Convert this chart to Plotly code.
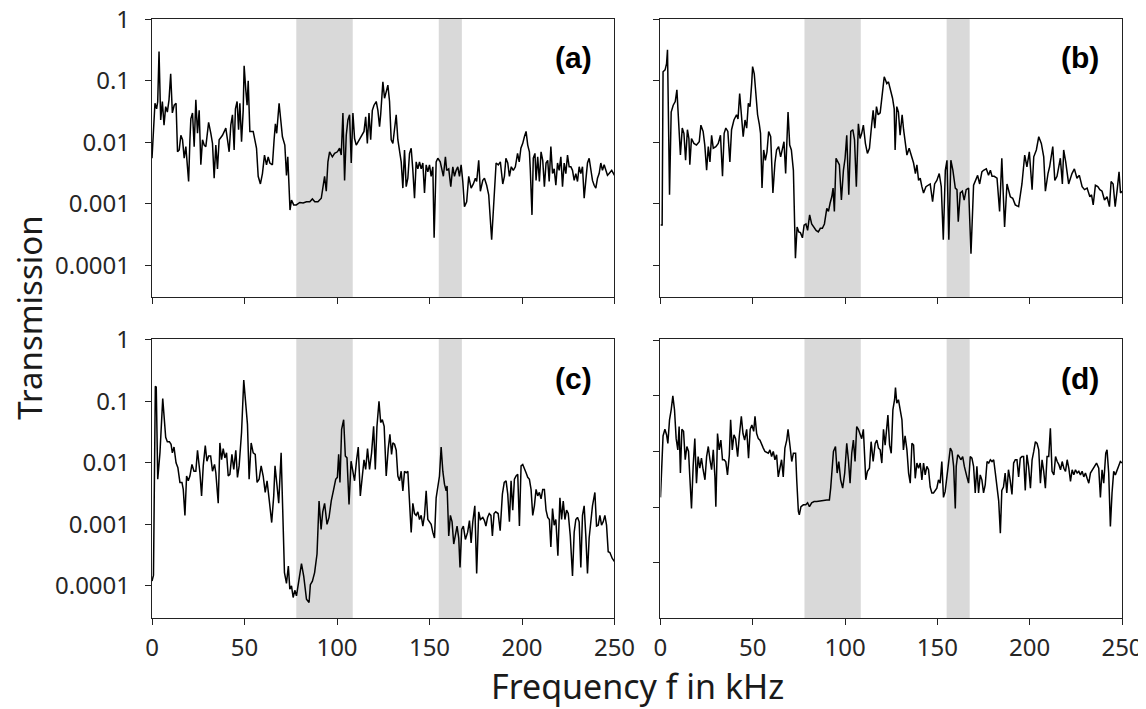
import plotly.graph_objects as go

# ---------------- data ----------------
freq_a = [0, 1.0, 1.6, 2.5, 3.1, 3.8, 4.7, 5.6, 6.5, 7.4,
          8.3, 9.2, 10.1, 11.0, 12.0, 13.0, 13.8, 14.7, 15.6, 16.5,
          17.4, 18.3, 19.8, 20.5, 21.0, 21.9, 22.8, 23.7, 24.6, 25.5,
          26.4, 27.3, 28.2, 29.1, 30.6, 31.8, 32.7, 33.6, 34.5, 35.4,
          36.3, 38.1, 39.9, 40.8, 41.7, 42.6, 43.5, 44.4, 45.1, 46.0,
          46.8, 47.5, 48.4, 49.3, 49.8, 50.7, 51.4, 52.0, 52.9, 54.7,
          56.5, 57.4, 58.6, 59.7, 60.8, 61.9, 62.8, 63.7, 65.1, 66.0,
          66.7, 67.4, 68.7, 69.6, 70.5, 71.8, 72.7, 73.4, 74.1, 74.6,
          75.4, 76.6, 78.0, 79.9, 81.7, 83.5, 85.3, 86.7, 88.0, 89.7,
          91.5, 92.4, 93.3, 94.2, 95.1, 96.0, 97.5, 98.7, 100.2, 101.4,
          102.3, 103.2, 104.1, 105.0, 105.9, 106.8, 107.7, 108.6, 109.5, 110.4,
          111.9, 113.1, 114.6, 115.5, 116.4, 117.3, 118.2, 119.1, 120.0, 121.2,
          122.1, 123.0, 123.6, 124.8, 125.7, 126.6, 127.5, 128.4, 129.3, 130.2,
          131.1, 132.0, 132.9, 133.8, 134.7, 135.6, 136.5, 137.4, 138.3, 139.2,
          140.1, 141.0, 141.9, 142.8, 143.7, 144.6, 145.5, 146.4, 147.3, 148.2,
          149.1, 150.0, 150.9, 151.8, 152.5, 153.6, 154.5, 155.8, 156.8, 157.5,
          158.6, 159.3, 160.4, 161.5, 162.6, 163.5, 164.4, 165.3, 166.2, 167.1,
          168.0, 168.9, 170.1, 171.2, 172.5, 173.7, 174.8, 175.5, 176.6, 177.5,
          178.8, 179.7, 180.9, 182.0, 183.6, 184.7, 186.0, 187.2, 188.3, 189.6,
          190.5, 191.3, 192.3, 193.2, 194.2, 195.3, 196.4, 197.6, 198.5, 199.4,
          200.4, 201.3, 202.2, 203.1, 204.0, 204.5, 205.4, 206.1, 207.0, 207.6,
          208.5, 209.4, 210.3, 211.2, 212.1, 213.0, 213.9, 214.7, 215.6, 216.5,
          217.4, 218.3, 219.2, 220.1, 221.0, 221.9, 222.8, 223.7, 224.6, 225.5,
          226.4, 227.3, 228.2, 229.1, 230.0, 230.9, 231.8, 232.7, 233.6, 234.5,
          235.4, 236.3, 237.2, 238.1, 239.0, 239.9, 240.8, 241.7, 242.6, 243.5,
          244.4, 245.3, 246.2, 247.1, 248.5, 250.0]
trans_a = [0.0055, 0.025, 0.043, 0.035, 0.046, 0.30, 0.023, 0.046, 0.019, 0.038,
           0.031, 0.049, 0.13, 0.030, 0.040, 0.043, 0.0070, 0.0075, 0.013, 0.011,
           0.0055, 0.0085, 0.0023, 0.011, 0.024, 0.030, 0.0085, 0.049, 0.014, 0.033,
           0.0043, 0.011, 0.0090, 0.0085, 0.021, 0.014, 0.0096, 0.0026, 0.0090, 0.0037,
           0.011, 0.013, 0.017, 0.011, 0.0070, 0.019, 0.028, 0.0075, 0.035, 0.046,
           0.016, 0.043, 0.0102, 0.033, 0.175, 0.071, 0.040, 0.10, 0.015, 0.015,
           0.0080, 0.0028, 0.0021, 0.0031, 0.0062, 0.0043, 0.0058, 0.0046, 0.0043, 0.011,
           0.020, 0.014, 0.043, 0.023, 0.0123, 0.0090, 0.0029, 0.0058, 0.0023, 0.00079,
           0.00115, 0.00096, 0.00096, 0.00105, 0.00103, 0.00108, 0.00108, 0.0012, 0.00108, 0.00108,
           0.00123, 0.0019, 0.0028, 0.0016, 0.0048, 0.0070, 0.0058, 0.0066, 0.0070, 0.0080,
           0.0062, 0.030, 0.0024, 0.013, 0.023, 0.028, 0.0046, 0.030, 0.0115, 0.0090,
           0.011, 0.013, 0.015, 0.026, 0.0096, 0.030, 0.011, 0.033, 0.040, 0.046,
           0.033, 0.018, 0.028, 0.096, 0.052, 0.066, 0.085, 0.046, 0.011, 0.0096,
           0.016, 0.028, 0.011, 0.0066, 0.0048, 0.0018, 0.0075, 0.0019, 0.0026, 0.0066,
           0.0080, 0.0035, 0.00123, 0.0048, 0.0037, 0.0048, 0.0037, 0.0046, 0.0015, 0.0043,
           0.0033, 0.0043, 0.0028, 0.0040, 0.00028, 0.0048, 0.0055, 0.0048, 0.0035, 0.0028,
           0.0058, 0.0035, 0.0037, 0.0019, 0.0040, 0.0028, 0.0035, 0.0040, 0.0028, 0.0043,
           0.0023, 0.00090, 0.00108, 0.0028, 0.0018, 0.0021, 0.0026, 0.0023, 0.0051, 0.0016,
           0.0024, 0.0026, 0.0020, 0.0014, 0.00026, 0.00115, 0.0046, 0.0043, 0.0048, 0.0021,
           0.0028, 0.0055, 0.0046, 0.0028, 0.0040, 0.0035, 0.0040, 0.0066, 0.0048, 0.0080,
           0.0096, 0.0123, 0.015, 0.0090, 0.0070, 0.0035, 0.00066, 0.0055, 0.0066, 0.0024,
           0.0058, 0.0023, 0.0070, 0.0051, 0.0019, 0.0046, 0.0051, 0.0023, 0.0085, 0.0031,
           0.0037, 0.0020, 0.0046, 0.0035, 0.0058, 0.0019, 0.0046, 0.0031, 0.0062, 0.0040,
           0.0040, 0.0035, 0.0024, 0.0031, 0.0023, 0.0040, 0.0031, 0.0040, 0.00123, 0.0024,
           0.0046, 0.0055, 0.0035, 0.0024, 0.0020, 0.0018, 0.0026, 0.0031, 0.0046, 0.0035,
           0.0043, 0.0035, 0.0029, 0.0031, 0.0035, 0.0029]

freq_b = [0.0, 0.9, 1.4, 2.5, 3.3, 3.8, 4.9, 5.8, 6.9, 8.0,
          8.9, 9.8, 10.8, 11.8, 12.7, 13.6, 14.6, 15.4, 15.9, 16.8,
          18.1, 19.5, 21.0, 21.9, 23.1, 24.0, 25.0, 25.9, 26.8, 27.7,
          28.6, 30.0, 31.3, 32.5, 33.6, 34.5, 35.4, 36.5, 37.6, 38.5,
          39.8, 41.2, 42.0, 42.9, 43.8, 44.8, 45.8, 46.7, 47.6, 48.5,
          49.4, 49.9, 50.8, 51.7, 52.6, 53.5, 54.2, 55.0, 55.9, 56.8,
          57.7, 58.6, 59.7, 60.9, 62.0, 62.9, 64.0, 65.1, 66.2, 66.9,
          67.8, 69.1, 70.0, 70.9, 72.0, 72.5, 73.1, 74.0, 74.9, 75.8,
          76.9, 77.8, 78.8, 79.7, 80.8, 81.9, 83.2, 84.3, 85.5, 86.6,
          87.7, 88.8, 90.1, 91.0, 91.9, 92.8, 93.5, 94.2, 95.1, 96.0,
          96.9, 98.0, 99.1, 100.0, 100.9, 102.0, 103.1, 104.2, 105.1, 106.1,
          107.2, 108.1, 109.0, 109.9, 111.0, 112.1, 113.2, 114.3, 115.2, 116.1,
          117.0, 117.9, 119.0, 121.2, 122.6, 123.5, 124.4, 125.7, 126.6, 127.1,
          128.0, 128.9, 129.8, 130.9, 131.7, 132.6, 133.5, 134.7, 135.6, 137.1,
          138.1, 138.9, 139.8, 140.7, 141.6, 142.5, 143.8, 144.9, 146.1, 147.4,
          148.5, 149.7, 151.0, 152.1, 153.2, 154.3, 155.2, 156.2, 157.3, 158.4,
          159.7, 160.6, 161.3, 162.4, 163.5, 164.5, 165.6, 166.9, 168.2, 169.6,
          170.5, 171.8, 172.9, 174.1, 175.0, 176.5, 177.7, 178.7, 179.6, 180.8,
          182.3, 183.7, 184.9, 186.4, 187.7, 189.5, 190.8, 192.2, 194.0, 194.9,
          195.8, 197.3, 198.5, 199.8, 201.3, 202.2, 203.6, 204.9, 206.3, 207.6,
          208.5, 209.9, 210.8, 212.5, 213.6, 214.8, 216.6, 217.7, 218.4, 219.5,
          221.1, 222.9, 224.2, 225.6, 226.9, 228.4, 229.7, 231.1, 232.6, 233.5,
          234.4, 235.6, 236.9, 238.0, 239.2, 240.5, 241.9, 243.2, 244.1, 245.2,
          246.3, 247.4, 248.4, 249.2, 250.0]
trans_b = [0.00045, 0.00045, 0.14, 0.15, 0.19, 0.32, 0.0014, 0.031, 0.040, 0.046,
           0.071, 0.018, 0.0062, 0.017, 0.014, 0.0051, 0.016, 0.0115, 0.0043, 0.0115,
           0.0096, 0.0090, 0.0102, 0.019, 0.015, 0.0090, 0.0035, 0.0085, 0.0048, 0.013,
           0.0080, 0.0085, 0.0096, 0.013, 0.0028, 0.014, 0.017, 0.015, 0.0048, 0.016,
           0.023, 0.028, 0.024, 0.062, 0.033, 0.0123, 0.023, 0.017, 0.043, 0.038,
           0.090, 0.17, 0.13, 0.062, 0.028, 0.020, 0.014, 0.0018, 0.0075, 0.0051,
           0.0070, 0.015, 0.0123, 0.0015, 0.0046, 0.0075, 0.0085, 0.0058, 0.0090, 0.0102,
           0.0031, 0.031, 0.0090, 0.0075, 0.0035, 0.00079, 0.00013, 0.00042, 0.00035, 0.00034,
           0.00028, 0.00045, 0.00047, 0.00037, 0.00066, 0.00047, 0.00042, 0.00037, 0.00035, 0.00040,
           0.00040, 0.00047, 0.00084, 0.00075, 0.00103, 0.0013, 0.0018, 0.00075, 0.0055, 0.0048,
           0.0043, 0.00115, 0.0035, 0.0055, 0.013, 0.0014, 0.015, 0.016, 0.011, 0.0019,
           0.020, 0.0115, 0.014, 0.019, 0.0096, 0.0066, 0.0080, 0.018, 0.033, 0.017,
           0.038, 0.028, 0.030, 0.116, 0.090, 0.096, 0.075, 0.052, 0.035, 0.0075,
           0.038, 0.031, 0.013, 0.028, 0.016, 0.0090, 0.0062, 0.0080, 0.0066, 0.0046,
           0.0031, 0.0043, 0.0024, 0.0026, 0.0019, 0.0015, 0.0019, 0.0020, 0.0021, 0.00108,
           0.0021, 0.0024, 0.0031, 0.0019, 0.00026, 0.0035, 0.0051, 0.00026, 0.0051, 0.0035,
           0.0018, 0.0017, 0.00051, 0.0015, 0.0016, 0.00115, 0.0017, 0.0018, 0.000155, 0.0020,
           0.0024, 0.0029, 0.0021, 0.0033, 0.0035, 0.0037, 0.0029, 0.0035, 0.0028, 0.0028,
           0.0026, 0.00075, 0.0055, 0.00042, 0.0021, 0.0013, 0.00123, 0.00096, 0.00090, 0.0013,
           0.0021, 0.0062, 0.0040, 0.0070, 0.0017, 0.0058, 0.0075, 0.0123, 0.0096, 0.0058,
           0.0016, 0.0031, 0.0040, 0.0085, 0.0024, 0.0028, 0.0055, 0.0021, 0.0075, 0.0048,
           0.0021, 0.0031, 0.0037, 0.0026, 0.0029, 0.0019, 0.0017, 0.0018, 0.0013, 0.0014,
           0.00096, 0.0020, 0.0019, 0.0017, 0.0016, 0.00115, 0.0013, 0.00090, 0.0023, 0.0021,
           0.00090, 0.0017, 0.0033, 0.0015, 0.0016]

freq_c = [0.0, 0.8, 1.8, 2.3, 3.1, 4.3, 5.8, 6.5, 7.4, 8.3,
          9.4, 10.3, 11.0, 11.9, 13.0, 14.0, 15.1, 16.2, 16.9, 17.8,
          18.7, 19.6, 20.5, 21.6, 22.7, 23.7, 24.6, 25.9, 26.8, 27.7,
          28.8, 29.7, 30.6, 31.7, 32.7, 33.8, 34.5, 35.8, 36.7, 37.6,
          38.5, 39.4, 40.3, 41.2, 42.1, 43.2, 44.2, 45.3, 46.2, 47.1,
          48.4, 49.6, 50.7, 51.6, 52.5, 53.6, 54.7, 55.8, 56.8, 57.9,
          59.0, 60.1, 61.2, 62.2, 63.3, 64.7, 65.8, 66.5, 67.6, 68.5,
          69.8, 70.5, 71.6, 72.7, 73.7, 74.5, 75.4, 76.3, 77.2, 78.1,
          79.0, 80.8, 82.0, 83.5, 84.9, 85.6, 86.7, 87.9, 89.2, 90.3,
          91.4, 92.3, 93.3, 94.6, 95.7, 96.9, 98.2, 99.3, 100.2, 100.9,
          101.6, 102.5, 103.6, 104.5, 105.4, 106.5, 107.6, 108.6, 109.5, 110.6,
          111.5, 112.6, 113.5, 114.6, 115.5, 116.5, 117.6, 118.7, 119.8, 120.7,
          121.6, 122.7, 123.6, 124.5, 125.5, 126.6, 127.7, 128.6, 129.5, 130.2,
          131.1, 132.0, 132.9, 133.8, 134.7, 135.6, 136.5, 137.4, 138.3, 139.2,
          140.1, 141.0, 141.9, 142.8, 143.7, 144.6, 145.5, 146.4, 147.3, 148.2,
          149.1, 150.0, 150.9, 151.8, 152.7, 153.6, 154.5, 155.4, 156.3, 157.2,
          158.1, 159.0, 159.5, 160.4, 161.3, 162.2, 163.1, 164.0, 164.9, 165.8,
          166.5, 167.4, 168.3, 169.4, 170.6, 171.6, 172.5, 173.4, 174.5, 175.5,
          176.6, 177.5, 178.8, 179.7, 180.5, 181.4, 182.3, 183.2, 184.0, 184.9,
          185.8, 187.1, 188.2, 189.4, 190.4, 191.4, 192.3, 193.2, 194.1, 195.0,
          195.9, 196.8, 197.7, 198.6, 199.5, 200.4, 201.3, 202.2, 203.1, 204.0,
          204.9, 205.8, 206.7, 207.6, 208.5, 209.4, 210.3, 211.2, 212.1, 213.0,
          213.9, 214.8, 215.6, 216.5, 217.4, 218.3, 219.4, 220.5, 221.4, 222.3,
          223.2, 224.1, 225.0, 226.1, 227.3, 228.2, 229.1, 230.0, 230.9, 231.8,
          232.7, 233.6, 234.5, 235.4, 236.3, 237.2, 238.1, 239.4, 240.3, 241.2,
          242.1, 243.0, 243.9, 244.8, 245.7, 246.6, 247.5, 248.8, 250.0]
trans_c = [0.00012, 0.00015, 0.175, 0.17, 0.0054, 0.0145, 0.11, 0.050, 0.026, 0.022,
           0.022, 0.020, 0.0145, 0.018, 0.010, 0.0083, 0.0048, 0.0048, 0.0037, 0.0014,
           0.0061, 0.0051, 0.0061, 0.0094, 0.0073, 0.0073, 0.016, 0.0069, 0.0029, 0.0089,
           0.019, 0.0106, 0.0129, 0.0129, 0.0073, 0.0094, 0.0069, 0.0022, 0.021, 0.0112,
           0.017, 0.012, 0.0145, 0.0061, 0.0065, 0.0137, 0.0078, 0.016, 0.0058, 0.0089,
           0.031, 0.22, 0.073, 0.042, 0.0054, 0.021, 0.0145, 0.0137, 0.0048, 0.0054,
           0.0089, 0.0061, 0.0033, 0.0051, 0.0026, 0.00107, 0.0029, 0.0089, 0.0042, 0.0022,
           0.0145, 0.0022, 0.000165, 0.00011, 0.00021, 0.000089, 0.0001, 0.000065, 0.000085, 0.000069,
           0.0001, 0.00023, 0.000145, 0.000061, 0.000054, 0.000105, 0.00012, 0.000165, 0.00033, 0.0024,
           0.00083, 0.0016, 0.0022, 0.0010, 0.0013, 0.0024, 0.0037, 0.0054, 0.0058, 0.0137,
           0.0048, 0.035, 0.050, 0.0129, 0.012, 0.0021, 0.0106, 0.0069, 0.0051, 0.0112,
           0.018, 0.0029, 0.0061, 0.0112, 0.0078, 0.017, 0.0078, 0.0145, 0.039, 0.0078,
           0.039, 0.10, 0.045, 0.050, 0.039, 0.0061, 0.017, 0.029, 0.0137, 0.021,
           0.020, 0.016, 0.0061, 0.0051, 0.0073, 0.0035, 0.0073, 0.0069, 0.0073, 0.0022,
           0.00074, 0.0022, 0.0015, 0.0014, 0.0016, 0.0012, 0.0014, 0.00094, 0.0014, 0.0035,
           0.0012, 0.0011, 0.0010, 0.00074, 0.0006, 0.0027, 0.0040, 0.0061, 0.018, 0.0073,
           0.0045, 0.0035, 0.0042, 0.00065, 0.0014, 0.0011, 0.00048, 0.00074, 0.00094, 0.0006,
           0.0002, 0.00083, 0.00094, 0.00057, 0.00074, 0.00115, 0.0005, 0.0011, 0.0020, 0.00016,
           0.0016, 0.0012, 0.0013, 0.00115, 0.00094, 0.0013, 0.0015, 0.0014, 0.00065, 0.0015,
           0.0016, 0.0015, 0.00079, 0.0031, 0.0048, 0.0051, 0.0031, 0.0011, 0.0051, 0.0017,
           0.0054, 0.0061, 0.0065, 0.00094, 0.0089, 0.0094, 0.0083, 0.0069, 0.0058, 0.0054,
           0.0037, 0.0014, 0.0020, 0.0037, 0.0029, 0.0033, 0.0026, 0.0037, 0.0037, 0.0017,
           0.0013, 0.0012, 0.00043, 0.0018, 0.00097, 0.0012, 0.00031, 0.0027, 0.0012, 0.0024,
           0.0012, 0.0017, 0.0015, 0.00065, 0.000145, 0.00074, 0.0012, 0.0013, 0.0011, 0.0002,
           0.0014, 0.0020, 0.00065, 0.00016, 0.0006, 0.0010, 0.0020, 0.0033, 0.00094, 0.00097,
           0.0014, 0.00097, 0.0011, 0.0014, 0.00097, 0.00036, 0.00035, 0.00028, 0.00025]

freq_d = [0.0, 1.4, 2.4, 3.3, 4.0, 4.9, 5.8, 6.7, 7.6, 8.5,
          9.4, 10.1, 10.8, 11.6, 12.5, 13.4, 14.3, 15.2, 15.9, 16.8,
          17.7, 18.6, 19.5, 20.4, 21.3, 22.2, 23.1, 24.1, 25.0, 25.9,
          26.8, 27.7, 28.6, 29.5, 30.0, 30.9, 31.8, 32.7, 33.6, 34.5,
          35.4, 36.3, 37.3, 38.0, 38.9, 39.8, 40.7, 41.8, 42.7, 43.8,
          44.7, 45.6, 46.7, 47.7, 48.6, 49.5, 50.5, 51.2, 52.1, 53.0,
          53.9, 54.8, 55.7, 56.6, 57.5, 58.4, 59.3, 60.2, 61.1, 62.0,
          62.9, 63.8, 64.7, 65.6, 66.5, 67.4, 68.4, 69.1, 70.2, 71.1,
          72.0, 73.2, 73.8, 74.7, 75.2, 76.1, 77.4, 78.7, 79.7, 80.7,
          81.9, 83.2, 84.6, 86.4, 88.2, 90.1, 91.5, 92.2, 93.7, 94.8,
          95.7, 96.6, 97.6, 98.7, 99.8, 100.9, 101.8, 102.7, 103.6, 104.5,
          105.4, 106.3, 107.2, 108.1, 109.0, 109.9, 111.2, 112.1, 113.2, 114.1,
          115.2, 116.3, 117.2, 118.1, 119.0, 119.9, 120.8, 121.7, 122.3, 123.2,
          124.1, 125.0, 125.9, 126.8, 127.3, 128.0, 128.9, 129.9, 130.8, 131.6,
          132.5, 133.5, 134.4, 135.3, 136.2, 137.1, 138.0, 138.9, 139.8, 140.7,
          141.6, 142.5, 143.4, 144.3, 145.2, 146.1, 147.0, 147.9, 148.8, 149.7,
          150.6, 151.5, 152.4, 153.3, 154.2, 155.1, 156.1, 157.0, 157.9, 158.8,
          159.7, 160.2, 161.0, 161.8, 162.7, 163.7, 164.6, 165.3, 166.0, 166.9,
          167.8, 168.7, 169.6, 170.5, 171.4, 172.3, 173.2, 174.1, 175.0, 175.9,
          176.9, 177.8, 178.7, 179.6, 180.5, 181.4, 182.3, 183.2, 184.1, 184.9,
          185.8, 186.7, 187.6, 188.5, 189.4, 190.4, 191.3, 192.2, 193.1, 194.0,
          194.9, 195.8, 196.7, 197.6, 198.5, 199.4, 200.4, 201.3, 202.2, 203.1,
          204.0, 204.9, 205.8, 206.7, 207.6, 208.5, 209.4, 210.3, 211.2, 212.1,
          213.1, 214.0, 214.9, 215.8, 216.7, 217.6, 218.5, 219.4, 220.3, 221.2,
          222.1, 223.0, 223.9, 224.8, 225.7, 226.6, 227.5, 228.4, 229.3, 230.2,
          231.1, 232.0, 232.9, 234.7, 236.2, 237.4, 238.3, 239.2, 240.1, 241.2,
          241.9, 242.8, 243.7, 244.6, 245.5, 246.4, 247.3, 248.2, 249.1, 250.0]
trans_d = [0.0015, 0.019, 0.025, 0.020, 0.014, 0.037, 0.056, 0.10, 0.056, 0.017,
           0.0107, 0.028, 0.0041, 0.025, 0.023, 0.0071, 0.0123, 0.010, 0.0035, 0.00095,
           0.0054, 0.017, 0.0027, 0.0081, 0.0050, 0.0076, 0.0047, 0.0031, 0.0081, 0.0123,
           0.0071, 0.0047, 0.0107, 0.0035, 0.00102, 0.021, 0.0107, 0.016, 0.0071, 0.0071,
           0.0065, 0.0038, 0.0087, 0.037, 0.0107, 0.020, 0.017, 0.0081, 0.019, 0.043,
           0.021, 0.016, 0.025, 0.0076, 0.025, 0.030, 0.023, 0.043, 0.021, 0.017,
           0.016, 0.014, 0.0115, 0.010, 0.0098, 0.0093, 0.0107, 0.0081, 0.010, 0.0071,
           0.0087, 0.0035, 0.0050, 0.0071, 0.0035, 0.0115, 0.016, 0.025, 0.0123, 0.0066,
           0.0093, 0.0093, 0.0031, 0.00084, 0.00073, 0.00102, 0.0011, 0.0011, 0.0012, 0.00102,
           0.0012, 0.00126, 0.00126, 0.0013, 0.0013, 0.00135, 0.00135, 0.0022, 0.010, 0.0123,
           0.0041, 0.0066, 0.0031, 0.0022, 0.0041, 0.014, 0.0071, 0.0027, 0.0093, 0.016,
           0.0066, 0.028, 0.025, 0.020, 0.017, 0.025, 0.0031, 0.0044, 0.0050, 0.015,
           0.0066, 0.014, 0.016, 0.0115, 0.0107, 0.0062, 0.025, 0.013, 0.020, 0.045,
           0.013, 0.0093, 0.056, 0.085, 0.14, 0.074, 0.085, 0.049, 0.037, 0.0107,
           0.019, 0.0107, 0.0041, 0.0027, 0.014, 0.013, 0.0033, 0.0062, 0.0050, 0.0062,
           0.0031, 0.0062, 0.0038, 0.0054, 0.0047, 0.0023, 0.0018, 0.0018, 0.0020, 0.0022,
           0.0031, 0.0027, 0.0066, 0.0015, 0.0019, 0.0035, 0.0062, 0.0115, 0.010, 0.0054,
           0.00095, 0.0054, 0.0087, 0.0081, 0.0071, 0.0081, 0.0054, 0.0041, 0.0035, 0.0027,
           0.0081, 0.0076, 0.0054, 0.0018, 0.0054, 0.0018, 0.0038, 0.0031, 0.0018, 0.0025,
           0.0066, 0.0062, 0.0071, 0.0066, 0.0071, 0.0041, 0.0025, 0.0013, 0.00034, 0.0020,
           0.0023, 0.0041, 0.0018, 0.0047, 0.0031, 0.0017, 0.0062, 0.0071, 0.0071, 0.0035,
           0.0076, 0.0081, 0.0081, 0.0020, 0.0087, 0.0054, 0.0022, 0.0071, 0.010, 0.015,
           0.014, 0.0107, 0.0027, 0.0071, 0.0044, 0.0022, 0.0081, 0.0081, 0.026, 0.0044,
           0.0038, 0.0081, 0.0066, 0.0058, 0.0047, 0.0066, 0.0050, 0.0044, 0.0071, 0.0050,
           0.0029, 0.0047, 0.0038, 0.0047, 0.0041, 0.0044, 0.0038, 0.0044, 0.0035, 0.0041,
           0.0033, 0.0027, 0.0041, 0.0050, 0.0062, 0.0050, 0.0015, 0.0047, 0.0027, 0.0093,
           0.0107, 0.0041, 0.00045, 0.0018, 0.0044, 0.0038, 0.0047, 0.0054, 0.0066, 0.0062]

panel_labels = ["(a)", "(b)", "(c)", "(d)"]
bands = [(78.0, 108.5), (155.0, 167.5)]
x_ticks = [0, 50, 100, 150, 200, 250]
y_ticks = [1e-4, 1e-3, 1e-2, 1e-1, 1]
y_tick_text = ["0.0001", "0.001", "0.01", "0.1", "1"]
x_title = "Frequency f in kHz"
y_title = "Transmission"

# ---------------- figure ----------------
series = [(freq_a, trans_a), (freq_b, trans_b), (freq_c, trans_c), (freq_d, trans_d)]
fig = go.Figure()
for i, (fx, ty) in enumerate(series):
    n = min(len(fx), len(ty))
    sfx = "" if i == 0 else str(i + 1)
    fig.add_trace(go.Scatter(x=fx[:n], y=ty[:n], mode="lines",
                             line=dict(color="black", width=1.5),
                             xaxis="x" + sfx, yaxis="y" + sfx,
                             hoverinfo="skip", showlegend=False))

SP = "#222222"
TICK_FONT = dict(family="Noto Sans", size=24, color="#262626")
xdom = [[0, 0.4768], [0.5242, 1], [0, 0.4768], [0.5242, 1]]
ydom = [[0.5354, 1], [0.5354, 1], [0, 0.4658], [0, 0.4658]]
yranges = [[-4.52, 0.004], [-4.52, 0.004], [-4.52, 0.01], [-4.99, 0.02]]

# the page body has an 8 px default margin, so the figure margins are offset by it
layout = dict(
    width=1146, height=709, autosize=False,
    margin=dict(l=144, r=32, t=11, b=99, pad=0, autoexpand=False),
    paper_bgcolor="white", plot_bgcolor="white",
    showlegend=False, hovermode=False,
)
for i in range(4):
    sfx = "" if i == 0 else str(i + 1)
    layout["xaxis" + sfx] = dict(
        domain=xdom[i], anchor="y" + sfx, range=[0, 250], automargin=False,
        tickmode="array", tickvals=x_ticks, ticktext=[str(v) for v in x_ticks],
        showticklabels=(i >= 2), ticks="outside", ticklen=6, tickwidth=1.3,
        tickcolor=SP, showline=True, linecolor=SP, linewidth=1.3, mirror=True,
        showgrid=False, zeroline=False, tickfont=TICK_FONT, ticklabelstandoff=2,
        ticklabeloverflow="allow",
    )
    layout["yaxis" + sfx] = dict(
        domain=ydom[i], anchor="x" + sfx, type="log", range=yranges[i], automargin=False,
        tickmode="array", tickvals=y_ticks, ticktext=y_tick_text,
        showticklabels=(i % 2 == 0), ticks="outside", ticklen=6, tickwidth=1.3,
        tickcolor=SP, showline=True, linecolor=SP, linewidth=1.3, mirror=True,
        showgrid=False, zeroline=False, tickfont=TICK_FONT, ticklabelstandoff=10,
        ticklabeloverflow="allow",
    )
fig.update_layout(**layout)

shapes = []
annotations = []
for i in range(4):
    sfx = "" if i == 0 else str(i + 1)
    for (b0, b1) in bands:
        shapes.append(dict(type="rect", xref="x" + sfx, yref="y" + sfx + " domain",
                           x0=b0, x1=b1, y0=0, y1=1, fillcolor="#d9d9d9",
                           line=dict(width=0), layer="below"))
    annotations.append(dict(text="<b>" + panel_labels[i] + "</b>",
                            xref="x" + sfx + " domain", yref="y" + sfx + " domain",
                            x=0.955, y=0.86, xanchor="right", yanchor="middle",
                            showarrow=False,
                            font=dict(family="Liberation Sans", size=30, color="black")))

annotations.append(dict(text=x_title, xref="paper", yref="paper", x=0.5, y=-0.114,
                        xanchor="center", yanchor="middle", showarrow=False,
                        font=dict(family="Noto Sans", size=34, color="#1a1a1a")))
annotations.append(dict(text=y_title, xref="paper", yref="paper", x=-0.126, y=0.501,
                        xanchor="center", yanchor="middle", textangle=-90, showarrow=False,
                        borderpad=0,
                        font=dict(family="Noto Sans", size=33, color="#1a1a1a")))
fig.update_layout(shapes=shapes, annotations=annotations)

fig.write_html("out.html", config={"responsive": False, "displayModeBar": False})
